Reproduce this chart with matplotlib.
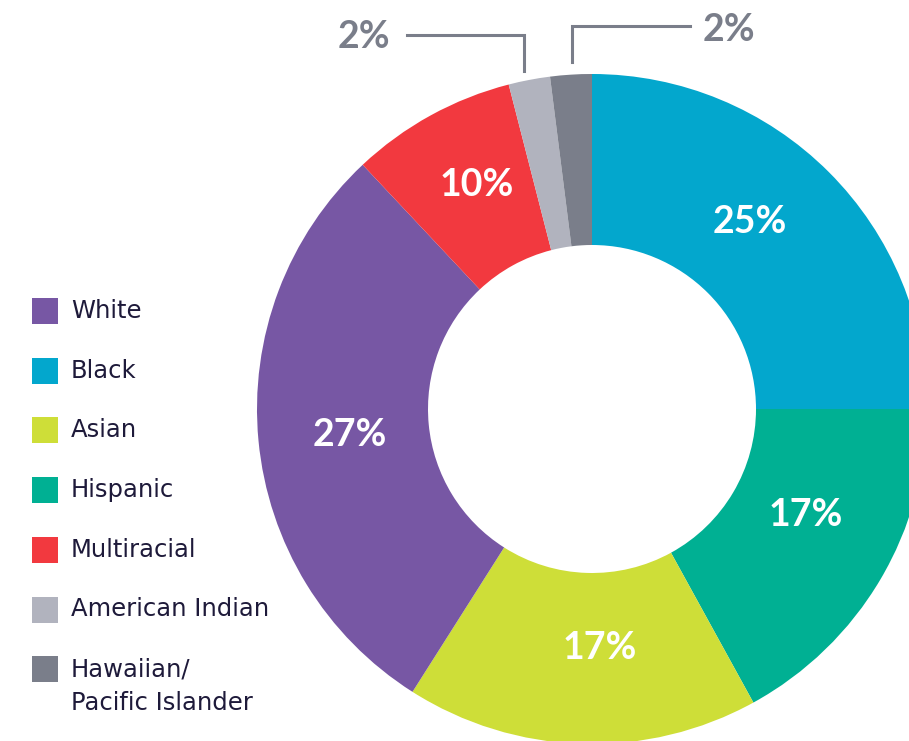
# Donut chart of student race / ethnicity shares

import matplotlib.pyplot as plt
from matplotlib.patches import Rectangle

# Slices in clockwise order from 12 o'clock (sizes as drawn in the picture)
groups = ["Black", "Hispanic", "Asian", "White", "Multiracial",
          "American Indian", "Hawaiian/\nPacific Islander"]
shares = [25, 17, 17, 29, 8, 2, 2]
share_labels = ["25%", "17%", "17%", "27%", "10%", "2%", "2%"]
colors = ["#03A7CD", "#00B093", "#CEDE38", "#7757A4", "#F2393F",
          "#B1B3BE", "#7A7E8A"]

# Legend order
legend_order = ["White", "Black", "Asian", "Hispanic", "Multiracial",
                "American Indian", "Hawaiian/\nPacific Islander"]

W, H = 909, 741
fig = plt.figure(figsize=(W / 100, H / 100), dpi=100)
ax = fig.add_axes([0, 0, 1, 1])

# y axis is inverted (pixel style), so counterclock=True reads clockwise
cx, cy, r_out, r_in = 592, 409, 335, 164
wedges, _ = ax.pie(
    shares,
    colors=colors,
    center=(cx, cy),
    radius=r_out,
    startangle=-90,
    counterclock=True,
    wedgeprops=dict(width=r_out - r_in, linewidth=0),
)
ax.set_xlim(0, W)
ax.set_ylim(H, 0)
ax.set_aspect("equal")
ax.axis("off")

pct_font = dict(fontsize=27, fontweight="bold", family="Lato",
                ha="center", va="center")

# White labels on the big slices
label_pos = [(750, 222), (806, 515), (600, 648), (350, 435), (477, 185)]
for (x, y), txt in zip(label_pos, share_labels[:5]):
    ax.text(x, y, txt, color="white", **pct_font)

# Grey call-outs for the two small slices
grey = "#7A7E8A"
ax.plot([407, 524, 524], [35, 35, 71], color=grey, lw=2.2,
        solid_joinstyle="miter")
ax.plot([572, 572, 690], [62, 26, 26], color=grey, lw=2.2,
        solid_joinstyle="miter")
ax.text(364, 37, share_labels[5], color=grey, **pct_font)
ax.text(729, 30, share_labels[6], color=grey, **pct_font)

# Legend drawn by hand so the two-line entry lines up like the original
col_of = dict(zip(groups, colors))
for i, name in enumerate(legend_order):
    y = 311 + i * 59.7
    ax.add_patch(Rectangle((32, y - 13), 26, 26, color=col_of[name], lw=0))
    ax.text(71, y - 12, name, color="#1E1A3A", fontsize=17.5,
            family="DejaVu Sans", ha="left", va="top", linespacing=1.5)

fig.savefig("out.png", dpi=100)
